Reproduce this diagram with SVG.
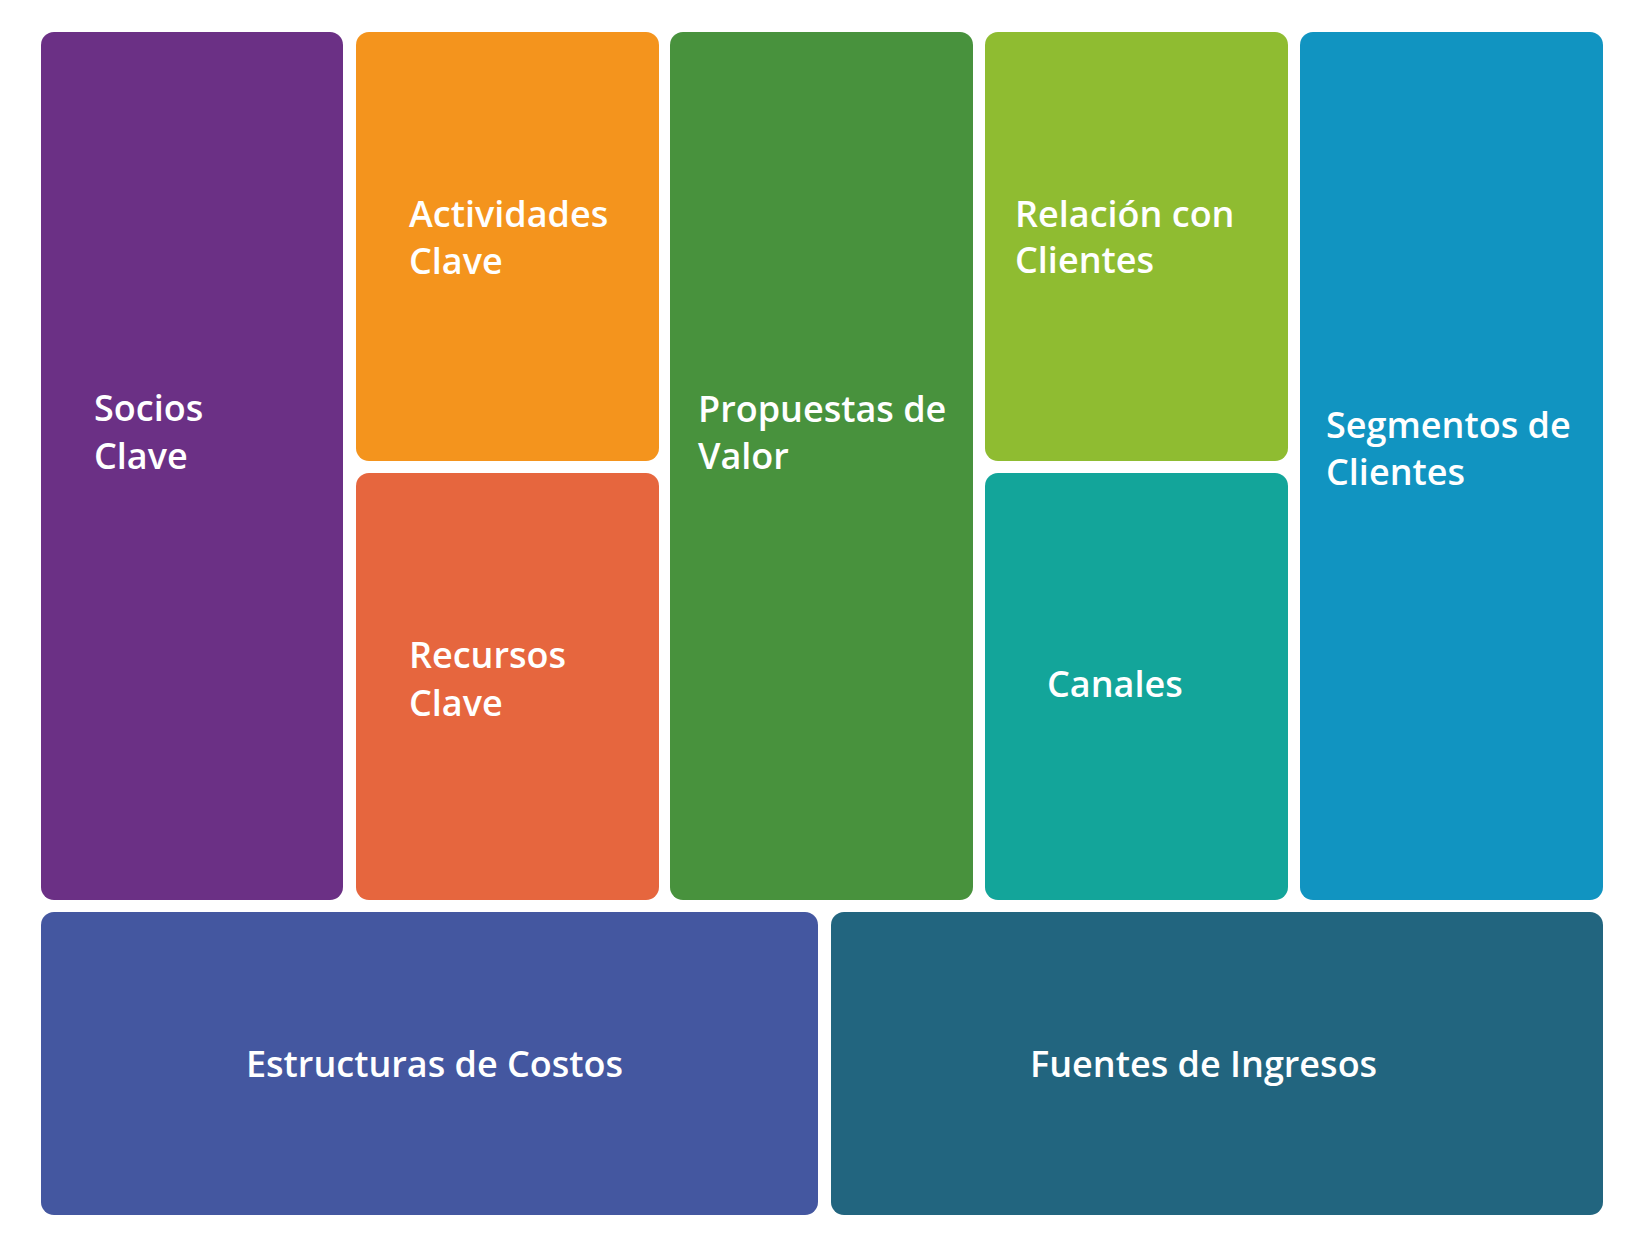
<svg xmlns="http://www.w3.org/2000/svg" width="1644" height="1248" viewBox="0 0 1644 1248">
<style>
.box{stroke:none}
.lbl{font-family:"Open Sans","Noto Sans","Liberation Sans",sans-serif;font-weight:600;font-size:36px;fill:#ffffff}
</style>
<rect x="0" y="0" width="1644" height="1248" fill="#ffffff"/>
<g id="socios-clave">
<rect class="box" x="41" y="32" width="302" height="868" rx="13" fill="#6B3085"/>
<text class="lbl" x="94" y="421">Socios</text>
<text class="lbl" x="94" y="469">Clave</text>
</g>
<g id="actividades-clave">
<rect class="box" x="356" y="32" width="303" height="429" rx="13" fill="#F4941D"/>
<text class="lbl" x="409" y="227">Actividades</text>
<text class="lbl" x="409" y="274">Clave</text>
</g>
<g id="recursos-clave">
<rect class="box" x="356" y="473" width="303" height="427" rx="13" fill="#E6663E"/>
<text class="lbl" x="409" y="668">Recursos</text>
<text class="lbl" x="409" y="716">Clave</text>
</g>
<g id="propuestas-de-valor">
<rect class="box" x="670" y="32" width="303" height="868" rx="13" fill="#48923D"/>
<text class="lbl" x="698" y="422">Propuestas de</text>
<text class="lbl" x="698" y="469">Valor</text>
</g>
<g id="relacion-con-clientes">
<rect class="box" x="985" y="32" width="303" height="429" rx="13" fill="#8FBC31"/>
<text class="lbl" x="1015" y="227">Relación con</text>
<text class="lbl" x="1015" y="273">Clientes</text>
</g>
<g id="canales">
<rect class="box" x="985" y="473" width="303" height="427" rx="13" fill="#13A59A"/>
<text class="lbl" x="1047" y="697">Canales</text>
</g>
<g id="segmentos-de-clientes">
<rect class="box" x="1300" y="32" width="303" height="868" rx="13" fill="#1194C1"/>
<text class="lbl" x="1326" y="438">Segmentos de</text>
<text class="lbl" x="1326" y="485">Clientes</text>
</g>
<g id="estructuras-de-costos">
<rect class="box" x="41" y="912" width="777" height="303" rx="13" fill="#4457A0"/>
<text class="lbl" x="246" y="1077">Estructuras de Costos</text>
</g>
<g id="fuentes-de-ingresos">
<rect class="box" x="831" y="912" width="772" height="303" rx="13" fill="#22657F"/>
<text class="lbl" x="1030" y="1077">Fuentes de Ingresos</text>
</g>
<g id="connectors"></g>
</svg>
